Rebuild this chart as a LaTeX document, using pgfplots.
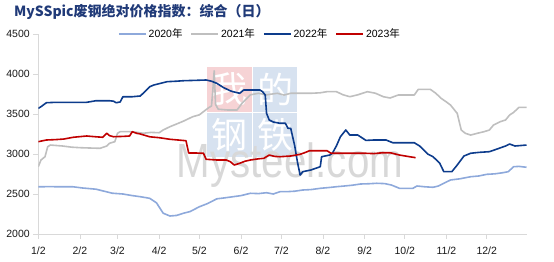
\documentclass[border=0pt]{standalone}
\usepackage{pgfplots}
\pgfplotsset{compat=1.18}
\usepackage{fontspec}
\setmainfont{Liberation Sans}
\newfontfamily\cjk{Noto Sans CJK SC}
\definecolor{c20}{HTML}{8EA9DB}
\definecolor{c21}{HTML}{BFBFBF}
\definecolor{c22}{HTML}{0D3C8C}
\definecolor{c23}{HTML}{C00000}
\definecolor{titlec}{HTML}{203A78}
\definecolor{axisc}{HTML}{D9D9D9}
\definecolor{wmpink}{HTML}{F6D3D5}
\definecolor{wmblue}{HTML}{D7E2F0}
\definecolor{wmgray}{HTML}{D8D8D8}
\begin{document}
\begin{tikzpicture}
\useasboundingbox (-38.3pt,-28pt) rectangle (515.7pt,234pt);
% watermark
\fill[wmpink] (168.4pt,122.3pt) rectangle (213.4pt,167.3pt);
\fill[wmblue] (215pt,122.3pt) rectangle (258.4pt,167.3pt);
\fill[wmblue] (168.4pt,77.3pt) rectangle (213.4pt,120.7pt);
\fill[wmblue] (215pt,77.3pt) rectangle (258.4pt,120.7pt);
\node[text=white,font=\cjk\fontsize{36}{36}\selectfont,inner sep=0pt] at (190.9pt,144.8pt) {我};
\node[text=white,font=\cjk\fontsize{36}{36}\selectfont,inner sep=0pt] at (236.7pt,144.8pt) {的};
\node[text=white,font=\cjk\fontsize{36}{36}\selectfont,inner sep=0pt] at (190.9pt,99pt) {钢};
\node[text=white,font=\cjk\fontsize{36}{36}\selectfont,inner sep=0pt] at (236.7pt,99pt) {铁};
\node[anchor=base west,inner sep=0pt,xscale=0.84,text=wmgray,font=\fontsize{48}{48}\selectfont] at (138.4pt,56pt) {Mysteel.com};
% title
\node[anchor=west,inner sep=0pt,text=titlec,font=\cjk\bfseries\fontsize{14}{16}\selectfont] at (-24.3pt,221.7pt) {MySSpic废钢绝对价格指数：综合（日）};
\begin{axis}[
  at={(0pt,0pt)}, anchor=south west,
  scale only axis, width=488.2pt, height=200pt,
  xmin=2, xmax=365.6, ymin=2000, ymax=4500,
  axis x line*=bottom, axis y line*=left,
  axis line style={draw=axisc, line width=0.8pt},
  xtick={2,33,61,92,122,153,183,214,245,275,306,336},
  xticklabels={1/2,2/2,3/2,4/2,5/2,6/2,7/2,8/2,9/2,10/2,11/2,12/2},
  ytick={2000,2500,3000,3500,4000,4500},
  tick align=outside, major tick length=5pt,
  tick style={draw=axisc, line width=0.8pt},
  ticklabel style={font=\fontsize{10.5}{12}\selectfont, text=black!90},
  xticklabel style={yshift=-4pt},
  /pgf/number format/assume math mode=true,
  yticklabel style={/pgf/number format/1000 sep={}},
  scaled y ticks=false,
  legend columns=4,
  legend style={draw=none, fill=none, inner sep=0pt, at={(0.163,1)}, anchor=west,
    font=\fontsize{10.5}{12}\selectfont,
    /tikz/every even column/.append style={column sep=6pt}},
  legend image code/.code={\draw[#1] (0pt,0pt) -- (27pt,0pt);},
  every axis plot/.append style={line width=1.6pt, line join=round},
]
\addplot[c20] coordinates {(2,2590) (10,2592) (20,2590) (28,2590) (35,2575) (45,2560) (57,2510) (65,2500) (72,2480) (78,2466) (85,2446) (90,2390) (95,2260) (100,2225) (105,2232) (110,2259) (115,2280) (122,2341) (128,2380) (135,2440) (140,2450) (147,2466) (153,2480) (160,2509) (166,2505) (172,2516) (177,2500) (182,2529) (187,2529) (193,2535) (199,2550) (205,2555) (212,2571) (218,2580) (224,2591) (230,2600) (236,2610) (242,2625) (248,2628) (254,2634) (260,2630) (265,2612) (271,2571) (276,2571) (281,2571) (284,2600) (290,2590) (296,2584) (300,2600) (304,2634) (309,2675) (316,2690) (324,2716) (330,2725) (336,2746) (342,2752) (348,2766) (352,2779) (356,2841) (360,2845) (365.6,2834)};
\addlegendentry{2020{\cjk 年}}
\addplot[c21] coordinates {(2,2841) (4,2925) (7,2966) (9,3091) (11,3112) (20,3100) (27,3085) (33,3079) (40,3075) (48,3071) (53,3100) (55,3134) (59,3154) (61,3259) (63,3279) (70,3279) (76,3270) (80,3259) (86,3270) (92,3266) (95,3300) (100,3341) (105,3375) (110,3410) (117,3466) (122,3490) (125,3529) (129,3580) (131,3600) (132,3800) (133,4040) (134,3620) (136,3560) (143,3550) (150,3550) (154,3640) (160,3740) (166,3759) (172,3740) (180,3759) (185,3737) (190,3759) (197,3759) (205,3759) (212,3765) (217,3779) (224,3779) (229,3740) (234,3716) (240,3740) (247,3779) (253,3760) (259,3716) (264,3700) (270,3737) (274,3737) (282,3737) (285,3808) (294,3808) (298,3760) (302,3696) (306,3650) (309,3612) (314,3508) (317,3300) (320,3259) (324,3237) (329,3259) (334,3279) (338,3300) (341,3362) (346,3404) (350,3425) (353,3487) (356,3520) (360,3583) (365.6,3583)};
\addlegendentry{2021{\cjk 年}}
\addplot[c22] coordinates {(2,3571) (4,3591) (8,3641) (15,3646) (25,3646) (38,3646) (45,3666) (55,3666) (58,3660) (60,3641) (63,3650) (65,3716) (72,3716) (78,3725) (82,3791) (85,3841) (88,3862) (93,3883) (98,3904) (105,3910) (110,3916) (118,3920) (127,3925) (131,3910) (135,3883) (140,3830) (145,3790) (147,3779) (152,3759) (155,3800) (160,3800) (167,3800) (169,3780) (171,3737) (172,3508) (174,3425) (177,3400) (182,3384) (186,3384) (188,3321) (190,3321) (193,3100) (195,2900) (197,2737) (199,2779) (205,2800) (212,2841) (213,2966) (219,2987) (221,3009) (224,3100) (227,3216) (231,3300) (234,3237) (240,3237) (246,3170) (252,3175) (261,3175) (266,3141) (275,3141) (282,3141) (286,3100) (289,3050) (292,3000) (296,2966) (301,2884) (304,2779) (310,2779) (314,2862) (319,2975) (324,3009) (330,3020) (338,3029) (345,3070) (350,3100) (353,3125) (357,3100) (365.6,3112)};
\addlegendentry{2022{\cjk 年}}
\addplot[c23] coordinates {(2,3154) (8,3175) (15,3180) (21,3187) (28,3209) (38,3225) (45,3215) (50,3209) (53,3259) (55,3230) (58,3216) (65,3220) (70,3225) (72,3279) (75,3260) (78,3250) (85,3215) (92,3204) (100,3184) (106,3175) (112,3166) (114,3012) (120,3012) (125,3009) (127,2934) (135,2925) (142,2925) (145,2904) (148,2862) (152,2884) (156,2910) (160,2925) (166,2940) (170,2946) (174,2987) (178,2970) (182,2966) (190,2975) (197,2996) (201,3020) (204,3041) (210,3041) (217,3041) (220,3009) (230,3009) (240,3009) (246,3009) (252,3005) (258,3015) (264,3016) (271,2987) (277,2970) (283,2954)};
\addlegendentry{2023{\cjk 年}}
\end{axis}
\end{tikzpicture}
\end{document}
